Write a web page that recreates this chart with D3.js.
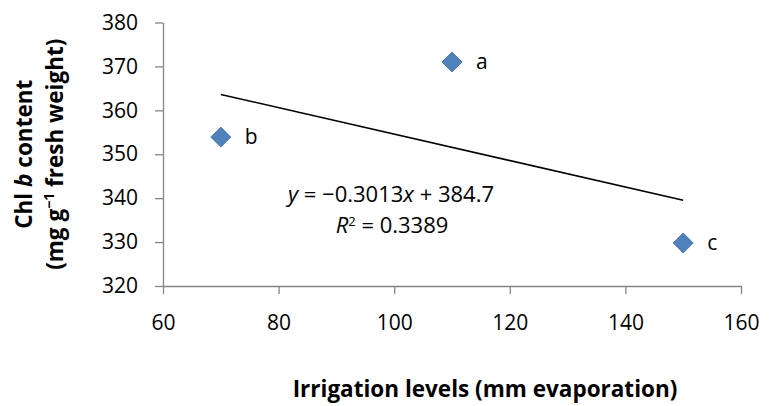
<!DOCTYPE html>
<html lang="en">
<head>
<meta charset="UTF-8">
<title>Chl b content</title>
<style>
body{margin:0;background:#fff}
text{font-family:"Open Sans",Lato,sans-serif;fill:#000}
</style>
</head>
<body>
<svg width="770" height="406"></svg>
<script src="https://cdn.jsdelivr.net/npm/d3@7"></script>
<script>
var width=770,height=406,margin={top:22.5,right:29,bottom:120,left:163}

// data
var levels=[110,70,150]
var chlB=[371.0,353.9,329.8]
var letters=['a','b','c']
var xTicks=[60,80,100,120,140,160]
var yTicks=[320,330,340,350,360,370,380]

var svg=d3.select('svg')

var x=d3.scaleLinear().domain([60,160]).range([margin.left,width-margin.right])
var y=d3.scaleLinear().domain([320,380]).range([height-margin.bottom,margin.top])

var axisColor='#868686'

// axes
var xAxis=g=>g.attr('transform',`translate(0,${height-margin.bottom})`)
    .call(d3.axisBottom(x).tickValues(xTicks).tickSize(8).tickSizeOuter(0).tickPadding(21))
var yAxis=g=>g.attr('transform',`translate(${margin.left},0)`)
    .call(d3.axisLeft(y).tickValues(yTicks).tickSize(8).tickSizeOuter(0).tickPadding(17))

svg.append('g').call(xAxis)
svg.append('g').call(yAxis)
svg.selectAll('.domain,.tick line').attr('stroke',axisColor).attr('stroke-width',1.3)
svg.selectAll('.tick text').attr('font-size',21).attr('font-family','"Open Sans",Lato,sans-serif').attr('fill','#000')

// trend line from least squares
var pts=levels.map((v,i)=>({x:v,y:chlB[i],l:letters[i]}))
var mx=d3.mean(levels),my=d3.mean(chlB)
var slope=d3.sum(pts,d=>(d.x-mx)*(d.y-my))/d3.sum(pts,d=>(d.x-mx)*(d.x-mx))
var icpt=my-slope*mx
var xr=d3.extent(levels)
svg.append('line')
    .attr('x1',x(xr[0])).attr('y1',y(icpt+slope*xr[0]))
    .attr('x2',x(xr[1])).attr('y2',y(icpt+slope*xr[1]))
    .attr('stroke','#000').attr('stroke-width',1.6)

// markers
svg.selectAll('.pt').data(pts).enter().append('path')
    .attr('class','pt')
    .attr('d',d3.symbol().type(d3.symbolSquare).size(200))
    .attr('transform',d=>`translate(${x(d.x)},${y(d.y)}) rotate(45)`)
    .attr('fill','#4F81BD').attr('stroke','#3f6fa8').attr('stroke-width',0.8)

svg.selectAll('.lbl').data(pts).enter().append('text')
    .attr('x',d=>x(d.x)+24).attr('y',d=>y(d.y)).attr('dy','0.35em')
    .attr('font-size',21).text(d=>d.l)

// equation
var eq=svg.append('text').attr('x',391).attr('y',202).attr('text-anchor','middle').attr('font-size',22)
eq.append('tspan').attr('font-style','italic').text('y')
eq.append('tspan').text(' = \u22120.3013')
eq.append('tspan').attr('font-style','italic').text('x')
eq.append('tspan').text(' + 384.7')
var r2=svg.append('text').attr('x',392).attr('y',233).attr('text-anchor','middle').attr('font-size',22)
r2.append('tspan').attr('font-style','italic').text('R')
r2.append('tspan').attr('font-size',13).attr('dy',-7).text('2')
r2.append('tspan').attr('dy',7).text(' = 0.3389')

// axis titles
svg.append('text').attr('x',485).attr('y',397).attr('text-anchor','middle')
    .attr('font-size',22.5).attr('font-weight','bold').text('Irrigation levels (mm evaporation)')

var yt=svg.append('g').attr('transform',`translate(0,${(margin.top+height-margin.bottom)/2}) rotate(-90)`)
var t1=yt.append('text').attr('x',0).attr('y',32).attr('text-anchor','middle').attr('font-size',22.5).attr('font-weight','bold')
t1.append('tspan').text('Chl ')
t1.append('tspan').attr('font-style','italic').text('b')
t1.append('tspan').text(' content')
var t2=yt.append('text').attr('x',0).attr('y',63).attr('text-anchor','middle').attr('font-size',22.5).attr('font-weight','bold')
t2.append('tspan').text('(mg g')
t2.append('tspan').attr('font-size',14).attr('dy',-9).text('\u22121')
t2.append('tspan').attr('dy',9).text(' fresh weight)')
</script>
</body>
</html>
